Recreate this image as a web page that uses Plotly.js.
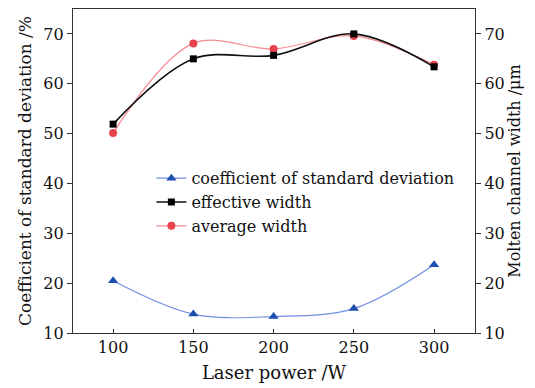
<!DOCTYPE html>
<html>
<head>
<meta charset="utf-8">
<script src="https://cdn.plot.ly/plotly-3.0.1.min.js"></script>
<style>html,body{margin:0;padding:0;background:#fff;}#chart{width:535px;height:388px;}</style>
</head>
<body>
<div id="chart"></div>
<script>
const laserPower = [100, 150, 200, 250, 300];
const coefStdDev = [20.5, 13.8, 13.3, 14.9, 23.7];
const effectiveWidth = [51.9, 65.0, 65.7, 70.0, 63.4];
const averageWidth = [50.1, 68.1, 67.0, 69.6, 63.8];
const xTicks = [100, 150, 200, 250, 300];
const yTicks = [10, 20, 30, 40, 50, 60, 70];

const FONT = "DejaVu Serif, Liberation Serif, serif";

const traces = [
  {
    x: laserPower, y: coefStdDev, name: 'coefficient of standard deviation',
    type: 'scatter', mode: 'lines+markers', yaxis: 'y', legendrank: 1,
    line: {color: '#6f8ee0', width: 1.2, shape: 'spline', smoothing: 1},
    marker: {symbol: 'triangle-up', size: 9, color: '#1d4fb0'}
  },
  {
    x: laserPower, y: averageWidth, name: 'average width',
    type: 'scatter', mode: 'lines+markers', yaxis: 'y2', legendrank: 3,
    line: {color: '#f58a8f', width: 1.2, shape: 'spline', smoothing: 1},
    marker: {symbol: 'circle', size: 8, color: '#e8424c'}
  },
  {
    x: laserPower, y: effectiveWidth, name: 'effective width',
    type: 'scatter', mode: 'lines+markers', yaxis: 'y2', legendrank: 2,
    line: {color: '#111111', width: 1.6, shape: 'spline', smoothing: 1},
    marker: {symbol: 'square', size: 7, color: '#000000'}
  }
];

const axisCommon = {
  showgrid: false, zeroline: false, showline: true, linecolor: '#333', linewidth: 1.2,
  tickfont: {family: FONT, size: 16, color: '#111'}, ticklen: 5, tickwidth: 1, tickcolor: '#333'
};

const layout = {
  width: 535, height: 388,
  margin: {l: 73, r: 60, t: 9, b: 55},
  paper_bgcolor: '#fff', plot_bgcolor: '#fff',
  font: {family: FONT, color: '#111'},
  showlegend: true,
  legend: {
    x: 0.195, y: 0.53, xanchor: 'left', yanchor: 'top',
    bgcolor: 'rgba(0,0,0,0)', font: {family: FONT, size: 16, color: '#111'},
    tracegroupgap: 0, itemwidth: 30
  },
  xaxis: Object.assign({}, axisCommon, {
    range: [75, 325.5], tickvals: xTicks, ticks: 'inside', mirror: true, ticklen: 4,
    title: {text: 'Laser power /W', font: {family: FONT, size: 18, color: '#111'}, standoff: 10}
  }),
  yaxis: Object.assign({}, axisCommon, {
    range: [10, 75], tickvals: yTicks, ticks: 'outside',
    title: {text: 'Coefficient of standard deviation /%', font: {family: FONT, size: 17, color: '#111'}, standoff: 7}
  }),
  yaxis2: Object.assign({}, axisCommon, {
    range: [10, 75], tickvals: yTicks, ticks: 'outside', overlaying: 'y', side: 'right',
    title: {text: 'Molten channel width /μm', font: {family: FONT, size: 16, color: '#111'}, standoff: 5}
  })
};

Plotly.newPlot('chart', traces, layout, {displayModeBar: false, staticPlot: true});
</script>
</body>
</html>
